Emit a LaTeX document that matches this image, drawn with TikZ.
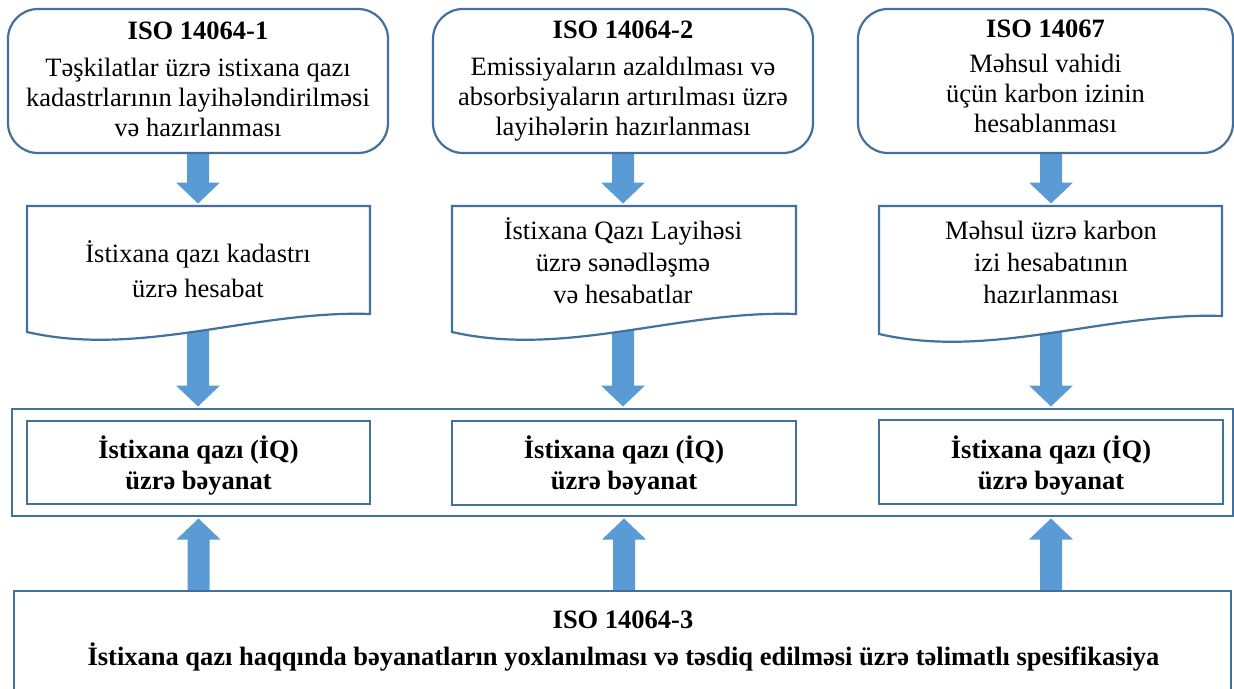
\documentclass[tikz,border=0pt]{standalone}
\usepackage{fontspec}
\setmainfont{Liberation Serif}
\usetikzlibrary{calc}
\definecolor{edgeblue}{HTML}{41719C}
\definecolor{arrowblue}{HTML}{5B9BD5}
\pgfdeclarelayer{background}
\pgfsetlayers{background,main}
\begin{document}
\begin{tikzpicture}[x=1pt,y=-1pt,
  every node/.style={inner sep=0pt, outer sep=0pt},
  topbox/.style={draw=edgeblue, line width=2.2pt, rounded corners=30pt, fill=white},
  plainbox/.style={draw=edgeblue, line width=2.2pt, fill=white},
  docshape/.style={draw=edgeblue, line width=2.2pt, fill=white},
  txt/.style={align=center, font=\fontsize{26.5}{30}\selectfont},
  doctxt/.style={align=center, font=\fontsize{26.5}{32}\selectfont},
  boldtxt/.style={align=center, font=\fontsize{26.5}{31}\selectfont\bfseries},
  blockdown/.style={fill=arrowblue, to path={let \p1=(\tikztostart), \p2=(\tikztotarget) in
    (\x1-11pt,\y1) -- (\x1+11pt,\y1) -- (\x1+11pt,\y2+23.5pt) -- (\x1+22pt,\y2+23.5pt) -- (\x1,\y2+2.5pt)
    -- (\x1-22pt,\y2+23.5pt) -- (\x1-11pt,\y2+23.5pt) -- cycle}},
  blockup/.style={fill=arrowblue, to path={let \p1=(\tikztostart), \p2=(\tikztotarget) in
    (\x1-11pt,\y1) -- (\x1+11pt,\y1) -- (\x1+11pt,\y2-23.5pt) -- (\x1+22pt,\y2-23.5pt) -- (\x1,\y2-2.5pt)
    -- (\x1-22pt,\y2-23.5pt) -- (\x1-11pt,\y2-23.5pt) -- cycle}}
]
\useasboundingbox (0,0) rectangle (1234,688);

% top boxes
\node[topbox, minimum width=380, minimum height=144] (b1) at (198,81) {};
\node[topbox, minimum width=380, minimum height=144] (b2) at (623,81) {};
\node[topbox, minimum width=375, minimum height=144] (b3) at (1045.5,81) {};

\node[txt] (t1) at (198,79.6) {\textbf{ISO 14064-1}\\[7pt]Təşkilatlar üzrə istixana qazı\\kadastrlarının layihələndirilməsi\\və hazırlanması};
\node[txt] (t2) at (623,80.9) {\textbf{ISO 14064-2}\\[7pt]Emissiyaların azaldılması və\\absorbsiyaların artırılması üzrə\\layihələrin hazırlanması};
\node[txt] (t3) at (1045.5,76.6) {\textbf{ISO 14067}\\[5pt]Məhsul vahidi\\üçün karbon izinin\\hesablanması};

% document shapes: top-centre coordinates
\coordinate (d1top) at (198,206);
\coordinate (d2top) at (623,206);
\coordinate (d3top) at (1051,206);

% document texts
\node[doctxt] (d1) at (198,269.5) {İstixana qazı kadastrı\\[2.7pt]üzrə hesabat};
\node[doctxt] (d2) at (623,260.7) {İstixana Qazı Layihəsi\\üzrə sənədləşmə\\və hesabatlar};
\node[doctxt] (d3) at (1051,262.5) {Məhsul üzrə karbon\\izi hesabatının\\hazırlanması};

% outer frame and statements
\node[plainbox, minimum width=1221, minimum height=107] (outer) at (622.5,462.5) {};
\node[plainbox, minimum width=343, minimum height=83] (bay1) at (198.5,462.5) {};
\node[plainbox, minimum width=344, minimum height=84] (bay2) at (624,463) {};
\node[plainbox, minimum width=344, minimum height=84] (bay3) at (1051,462) {};
\node[boldtxt] (q1) at (198.5,465.5) {İstixana qazı (İQ)\\üzrə bəyanat};
\node[boldtxt] (q2) at (624,465.5) {İstixana qazı (İQ)\\üzrə bəyanat};
\node[boldtxt] (q3) at (1051,465.5) {İstixana qazı (İQ)\\üzrə bəyanat};

% bottom box
\node[plainbox, minimum width=1217, minimum height=169] (iso3box) at (622.5,675.5) {};
\node[anchor=base, font=\fontsize{26.5}{30}\selectfont\bfseries] (iso3) at (623,628) {ISO 14064-3};
\node[anchor=base, font=\fontsize{26.5}{30}\selectfont\bfseries] (iso3txt) at (623.5,665) {İstixana qazı haqqında bəyanatların yoxlanılması və təsdiq edilməsi üzrə təlimatlı spesifikasiya};

\begin{pgfonlayer}{background}
  % arrows
  \path[blockdown] (b1.south) to (d1top);
  \path[blockdown] (b2.south) to (d2top);
  \path[blockdown] (b3.south -| d3top) to (d3top);
  \path[blockdown] (d1) to (d1 |- outer.north);
  \path[blockdown] (d2) to (d2 |- outer.north);
  \path[blockdown] (d3) to (d3 |- outer.north);
  \path[blockup] (bay1.south |- iso3box.north) to (bay1.south |- outer.south);
  \path[blockup] (bay2.south |- iso3box.north) to (bay2.south |- outer.south);
  \path[blockup] (bay3.south |- iso3box.north) to (bay3.south |- outer.south);
  % document shapes
  \draw[docshape] (27,332) -- (27,206) -- (370,206) -- (370,314) .. controls (255,310) and (140,358) .. (27,332) -- cycle;
  \draw[docshape] (452,332) -- (452,206) -- (796,206) -- (796,314) .. controls (679,310) and (565.5,358) .. (452,332) -- cycle;
  \draw[docshape] (879,334) -- (879,206) -- (1222,206) -- (1222,316) .. controls (1105,312) and (992,360) .. (879,334) -- cycle;
\end{pgfonlayer}
\end{tikzpicture}
\end{document}
